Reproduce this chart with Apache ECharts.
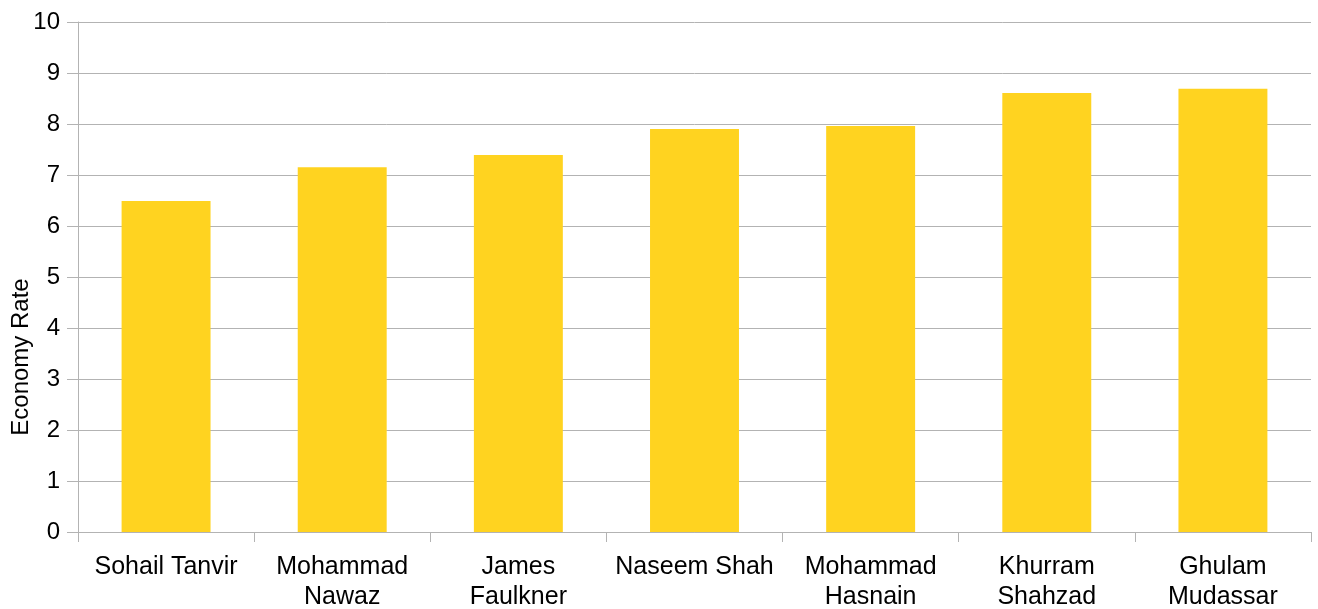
<!DOCTYPE html>
<html>
<head>
<meta charset="utf-8">
<script src="https://cdn.jsdelivr.net/npm/echarts@6/dist/echarts.min.js"></script>
<style>
html,body{margin:0;padding:0;background:#fff;}
#chart{width:1318px;height:609px;}
</style>
</head>
<body>
<div id="chart"></div>
<script>
const categories = ["Sohail Tanvir", "Mohammad\nNawaz", "James\nFaulkner", "Naseem Shah", "Mohammad\nHasnain", "Khurram\nShahzad", "Ghulam\nMudassar"];
const economyRate = [6.49, 7.15, 7.39, 7.90, 7.96, 8.61, 8.69];
const yAxisName = "Economy Rate";

const chart = echarts.init(document.getElementById('chart'), null, {renderer: 'canvas'});
const font = "'Liberation Sans', Arial, sans-serif";
chart.setOption({
  animation: false,
  backgroundColor: '#ffffff',
  textStyle: {fontFamily: font},
  grid: {left: 78, right: 7, top: 22, bottom: 77, containLabel: false, outerBoundsMode: 'none'},
  xAxis: {
    type: 'category',
    data: categories,
    axisLine: {lineStyle: {color: '#b3b3b3', width: 1}},
    axisTick: {show: true, length: 10, alignWithLabel: false, lineStyle: {color: '#b3b3b3'}},
    axisLabel: {color: '#000', fontSize: 25, fontFamily: font, lineHeight: 30, margin: 20, interval: 0},
    splitLine: {show: false}
  },
  yAxis: {
    type: 'value',
    min: 0, max: 10, interval: 1,
    axisLine: {show: true, lineStyle: {color: '#b3b3b3', width: 1}},
    axisTick: {show: true, length: 11, lineStyle: {color: '#b3b3b3'}},
    axisLabel: {color: '#000', fontSize: 24, fontFamily: font, margin: 18},
    splitLine: {show: true, lineStyle: {color: '#b3b3b3', width: 1}}
  },
  graphic: [{
    type: 'text',
    x: 9, y: 357,
    rotation: Math.PI / 2,
    style: {
      text: yAxisName,
      fill: '#000',
      font: "24px 'Liberation Sans', Arial, sans-serif",
      textAlign: 'center',
      textVerticalAlign: 'top'
    }
  }],
  series: [{
    type: 'bar',
    data: economyRate,
    barWidth: '50.5%',
    itemStyle: {color: '#ffd320'}
  }]
});
</script>
</body>
</html>
